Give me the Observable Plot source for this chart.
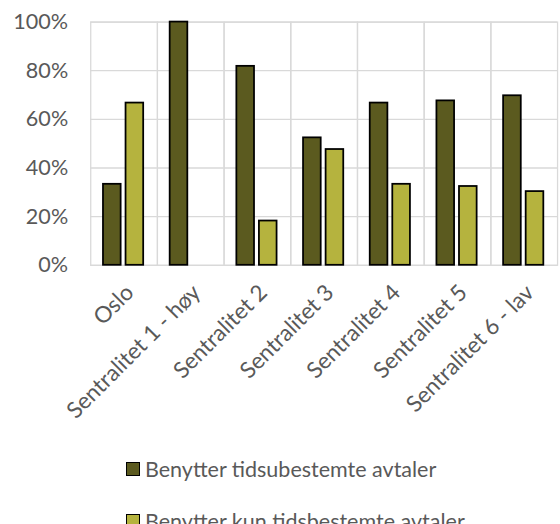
<!DOCTYPE html>
<html>
<head>
<meta charset="utf-8">
<script src="https://cdn.jsdelivr.net/npm/d3@7"></script>
<script src="https://cdn.jsdelivr.net/npm/@observablehq/plot@0.6"></script>
<style>
  html, body { margin: 0; padding: 0; background: #fff; }
  #wrap { position: relative; width: 560px; height: 524px; overflow: hidden; font-family: Lato, "Open Sans", sans-serif; }
  #chart { position: absolute; left: 0; top: 0; }
  .leg { position: absolute; left: 126px; display: flex; align-items: center; color: #595959; font-size: 21.5px; line-height: 24px; white-space: nowrap; }
  .sw { width: 12px; height: 12px; border: 1.5px solid #000; margin-right: 5px; }
</style>
</head>
<body>
<div id="wrap">
  <div id="chart"></div>
  <div id="legend"></div>
</div>
<script>
const categories = ["Oslo", "Sentralitet 1 - høy", "Sentralitet 2", "Sentralitet 3", "Sentralitet 4", "Sentralitet 5", "Sentralitet 6 - lav"];
const series = ["Benytter tidsubestemte avtaler", "Benytter kun tidsbestemte avtaler"];
const tidsubestemte = [33.3, 100, 81.8, 52.4, 66.7, 67.6, 69.7];
const kunTidsbestemte = [66.7, 0, 18.2, 47.6, 33.3, 32.4, 30.3];
const colors = ["#5b5a1f", "#b5b33e"];
const yTicks = [0, 20, 40, 60, 80, 100];

const data = [];
categories.forEach((c, i) => {
  data.push({cat: c, series: series[0], value: tidsubestemte[i]});
  data.push({cat: c, series: series[1], value: kunTidsbestemte[i]});
});
const barData = data.filter(d => d.value > 0);

const chart = Plot.plot({
  width: 571,
  height: 440,
  marginLeft: 89,
  marginRight: 0,
  marginTop: 22,
  marginBottom: 170,
  style: {fontFamily: "Lato, 'Open Sans', sans-serif", background: "#fff"},
  fx: {domain: categories, padding: 0, label: null},
  x: {domain: series, paddingInner: 0.21, paddingOuter: 0.54, axis: null},
  y: {domain: [0, 100], label: null},
  color: {domain: series, range: colors},
  marks: [
    Plot.frame({stroke: "#d9d9d9", strokeWidth: 1.3}),
    Plot.gridY(yTicks, {stroke: "#d9d9d9", strokeOpacity: 1, strokeWidth: 1.3}),
    Plot.barY(barData, {fx: "cat", x: "series", y: "value", fill: "series", stroke: "#000", strokeWidth: 1.8}),
    Plot.axisY(yTicks, {tickSize: 0, tickPadding: 23, tickFormat: d => d + "%", fontSize: 22, fill: "#595959", label: null}),
    Plot.axisFx({anchor: "bottom", tickRotate: -45, tickSize: 0, tickPadding: 24, dx: 6, fontSize: 23, fill: "#595959", label: null})
  ]
});
document.getElementById("chart").appendChild(chart);

const legend = document.getElementById("legend");
series.forEach((s, i) => {
  const row = document.createElement("div");
  row.className = "leg";
  row.style.top = (457 + i * 52) + "px";
  row.innerHTML = `<span class="sw" style="background:${colors[i]}"></span><span>${s}</span>`;
  legend.appendChild(row);
});
</script>
</body>
</html>
